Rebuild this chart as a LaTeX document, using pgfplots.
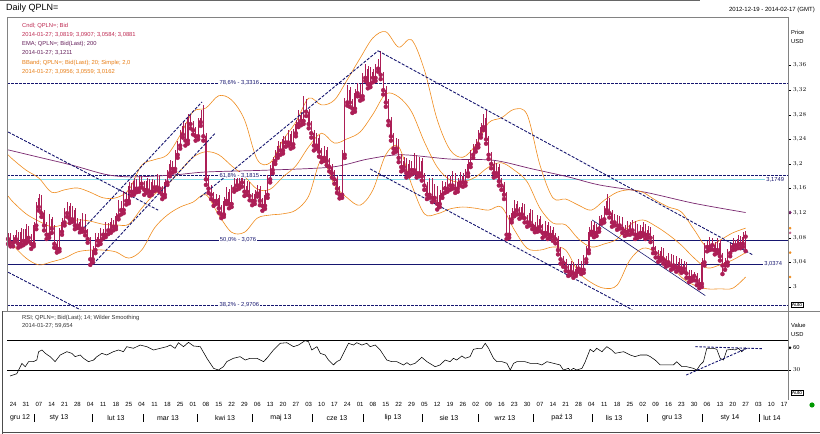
\documentclass[border=0pt]{standalone}
\usepackage{fontspec}
\setmainfont{Liberation Sans}
\usepackage{pgfplots}
\usepackage{pgfplotstable}
\pgfplotsset{compat=1.18}
\definecolor{candle}{RGB}{172,30,86}
\definecolor{ema}{RGB}{122,40,112}
\definecolor{bb}{RGB}{240,140,30}
\definecolor{navy}{RGB}{22,22,112}
\definecolor{cyanl}{RGB}{130,222,235}
\definecolor{frm}{RGB}{130,130,130}
\definecolor{legc}{RGB}{190,40,80}
\definecolor{lege}{RGB}{100,30,90}
\definecolor{lego}{RGB}{232,125,20}

\pgfplotstableread{
i o h l c
-2 3.078 3.088 3.070 3.082
-1 3.082 3.088 3.066 3.072
0 3.072 3.084 3.066 3.078
1 3.078 3.092 3.074 3.085
2 3.085 3.090 3.064 3.070
3 3.070 3.096 3.066 3.090
4 3.090 3.094 3.068 3.075
5 3.075 3.102 3.071 3.095
6 3.095 3.099 3.074 3.080
7 3.080 3.086 3.062 3.070
8 3.070 3.106 3.066 3.100
9 3.100 3.138 3.094 3.130
10 3.130 3.152 3.124 3.145
11 3.145 3.150 3.114 3.120
12 3.120 3.126 3.092 3.100
13 3.100 3.105 3.078 3.085
14 3.085 3.118 3.080 3.110
15 3.110 3.114 3.088 3.095
16 3.095 3.100 3.064 3.070
17 3.070 3.076 3.056 3.062
18 3.062 3.096 3.058 3.090
19 3.090 3.112 3.085 3.105
20 3.105 3.128 3.100 3.120
21 3.120 3.138 3.114 3.132
22 3.132 3.136 3.104 3.110
23 3.110 3.131 3.106 3.125
24 3.125 3.129 3.094 3.100
25 3.100 3.112 3.096 3.105
26 3.105 3.110 3.089 3.095
27 3.095 3.121 3.090 3.115
28 3.115 3.119 3.084 3.090
29 3.090 3.094 3.072 3.078
30 3.078 3.082 3.036 3.045
31 3.045 3.066 3.040 3.060
32 3.060 3.088 3.055 3.082
33 3.082 3.087 3.068 3.075
34 3.075 3.096 3.070 3.090
35 3.090 3.094 3.079 3.085
36 3.085 3.106 3.081 3.100
37 3.100 3.104 3.086 3.092
38 3.092 3.112 3.088 3.105
39 3.105 3.109 3.092 3.098
40 3.098 3.121 3.094 3.115
41 3.115 3.142 3.110 3.135
42 3.135 3.140 3.118 3.125
43 3.125 3.156 3.120 3.150
44 3.150 3.155 3.134 3.140
45 3.140 3.170 3.136 3.165
46 3.165 3.169 3.149 3.155
47 3.155 3.178 3.150 3.172
48 3.172 3.176 3.154 3.160
49 3.160 3.181 3.155 3.175
50 3.175 3.180 3.162 3.168
51 3.168 3.172 3.150 3.158
52 3.158 3.178 3.153 3.172
53 3.172 3.176 3.148 3.155
54 3.155 3.176 3.150 3.170
55 3.170 3.174 3.156 3.162
56 3.162 3.184 3.158 3.178
57 3.178 3.182 3.154 3.160
58 3.160 3.164 3.143 3.150
59 3.150 3.176 3.146 3.170
60 3.170 3.191 3.166 3.185
61 3.185 3.206 3.180 3.200
62 3.200 3.205 3.186 3.192
63 3.192 3.222 3.188 3.215
64 3.215 3.237 3.210 3.230
65 3.230 3.255 3.225 3.248
66 3.248 3.270 3.243 3.262
67 3.262 3.267 3.230 3.238
68 3.238 3.282 3.233 3.275
69 3.275 3.280 3.258 3.265
70 3.265 3.270 3.248 3.255
71 3.255 3.260 3.238 3.245
72 3.245 3.275 3.240 3.268
73 3.268 3.288 3.262 3.275
74 3.275 3.296 3.238 3.245
75 3.245 3.250 3.166 3.175
76 3.175 3.182 3.153 3.160
77 3.160 3.166 3.143 3.150
78 3.150 3.155 3.132 3.140
79 3.140 3.152 3.135 3.145
80 3.145 3.150 3.121 3.128
81 3.128 3.133 3.112 3.118
82 3.118 3.146 3.114 3.140
83 3.140 3.162 3.135 3.155
84 3.155 3.160 3.128 3.135
85 3.135 3.166 3.130 3.160
86 3.160 3.182 3.155 3.175
87 3.175 3.180 3.158 3.165
88 3.165 3.188 3.160 3.180
89 3.180 3.185 3.163 3.170
90 3.170 3.175 3.148 3.155
91 3.155 3.172 3.150 3.165
92 3.165 3.170 3.141 3.148
93 3.148 3.153 3.133 3.140
94 3.140 3.158 3.135 3.152
95 3.152 3.166 3.147 3.160
96 3.160 3.165 3.133 3.140
97 3.140 3.145 3.124 3.132
98 3.132 3.157 3.127 3.150
99 3.150 3.182 3.145 3.175
100 3.175 3.198 3.170 3.190
101 3.190 3.212 3.185 3.205
102 3.205 3.222 3.200 3.215
103 3.215 3.238 3.210 3.230
104 3.230 3.235 3.215 3.222
105 3.222 3.246 3.217 3.240
106 3.240 3.245 3.228 3.235
107 3.235 3.255 3.230 3.248
108 3.248 3.253 3.225 3.232
109 3.232 3.257 3.227 3.250
110 3.250 3.272 3.245 3.265
111 3.265 3.288 3.260 3.280
112 3.280 3.285 3.263 3.270
113 3.270 3.310 3.265 3.300
114 3.300 3.306 3.278 3.285
115 3.285 3.290 3.258 3.265
116 3.265 3.270 3.243 3.250
117 3.250 3.255 3.222 3.230
118 3.230 3.250 3.225 3.242
119 3.242 3.247 3.212 3.220
120 3.220 3.226 3.203 3.210
121 3.210 3.229 3.205 3.222
122 3.222 3.227 3.198 3.205
123 3.205 3.210 3.188 3.195
124 3.195 3.200 3.178 3.185
125 3.185 3.190 3.168 3.175
126 3.175 3.180 3.153 3.160
127 3.160 3.165 3.144 3.150
128 3.150 3.222 3.145 3.215
129 3.215 3.308 3.210 3.300
130 3.300 3.328 3.295 3.320
131 3.320 3.325 3.293 3.300
132 3.300 3.305 3.283 3.290
133 3.290 3.322 3.285 3.315
134 3.315 3.332 3.310 3.325
135 3.325 3.330 3.303 3.310
136 3.310 3.348 3.305 3.340
137 3.340 3.362 3.335 3.355
138 3.355 3.360 3.323 3.330
139 3.330 3.357 3.325 3.350
140 3.350 3.355 3.333 3.340
141 3.340 3.362 3.335 3.355
142 3.355 3.370 3.350 3.362
143 3.362 3.383 3.338 3.345
144 3.345 3.350 3.313 3.320
145 3.320 3.326 3.293 3.300
146 3.300 3.305 3.263 3.270
147 3.270 3.276 3.238 3.245
148 3.245 3.250 3.218 3.225
149 3.225 3.242 3.220 3.235
150 3.235 3.240 3.203 3.210
151 3.210 3.216 3.188 3.195
152 3.195 3.212 3.190 3.205
153 3.205 3.210 3.178 3.185
154 3.185 3.207 3.180 3.200
155 3.200 3.205 3.183 3.190
156 3.190 3.218 3.185 3.210
157 3.210 3.215 3.178 3.185
158 3.185 3.212 3.180 3.205
159 3.205 3.210 3.173 3.180
160 3.180 3.185 3.158 3.165
161 3.165 3.170 3.143 3.150
162 3.150 3.178 3.145 3.172
163 3.172 3.177 3.138 3.145
164 3.145 3.167 3.140 3.160
165 3.160 3.165 3.126 3.135
166 3.135 3.157 3.130 3.150
167 3.150 3.172 3.145 3.165
168 3.165 3.170 3.153 3.160
169 3.160 3.182 3.155 3.175
170 3.175 3.180 3.158 3.165
171 3.165 3.188 3.160 3.180
172 3.180 3.185 3.153 3.160
173 3.160 3.177 3.155 3.170
174 3.170 3.187 3.165 3.180
175 3.180 3.185 3.163 3.170
176 3.170 3.192 3.165 3.185
177 3.185 3.207 3.180 3.200
178 3.200 3.222 3.195 3.215
179 3.215 3.232 3.210 3.225
180 3.225 3.240 3.220 3.232
181 3.232 3.255 3.227 3.248
182 3.248 3.267 3.243 3.260
183 3.260 3.282 3.255 3.275
184 3.275 3.287 3.233 3.240
185 3.240 3.246 3.208 3.215
186 3.215 3.220 3.193 3.200
187 3.200 3.205 3.178 3.185
188 3.185 3.202 3.180 3.195
189 3.195 3.200 3.165 3.172
190 3.172 3.177 3.158 3.165
191 3.165 3.170 3.143 3.150
192 3.150 3.155 3.078 3.085
193 3.085 3.117 3.080 3.110
194 3.110 3.128 3.105 3.120
195 3.120 3.142 3.115 3.135
196 3.135 3.140 3.118 3.125
197 3.125 3.130 3.111 3.118
198 3.118 3.137 3.113 3.130
199 3.130 3.135 3.105 3.112
200 3.112 3.117 3.098 3.105
201 3.105 3.127 3.100 3.120
202 3.120 3.125 3.094 3.100
203 3.100 3.105 3.089 3.095
204 3.095 3.117 3.090 3.110
205 3.110 3.115 3.091 3.098
206 3.098 3.103 3.080 3.088
207 3.088 3.107 3.083 3.100
208 3.100 3.105 3.078 3.085
209 3.085 3.099 3.080 3.092
210 3.092 3.097 3.075 3.082
211 3.082 3.087 3.071 3.078
212 3.078 3.083 3.053 3.060
213 3.060 3.065 3.038 3.045
214 3.045 3.050 3.033 3.040
215 3.040 3.045 3.026 3.032
216 3.032 3.037 3.018 3.025
217 3.025 3.042 3.020 3.035
218 3.035 3.040 3.015 3.022
219 3.022 3.037 3.018 3.030
220 3.030 3.045 3.025 3.038
221 3.038 3.043 3.021 3.028
222 3.028 3.052 3.023 3.045
223 3.045 3.067 3.040 3.060
224 3.060 3.097 3.055 3.090
225 3.090 3.107 3.085 3.100
226 3.100 3.105 3.081 3.088
227 3.088 3.102 3.083 3.095
228 3.095 3.115 3.090 3.108
229 3.108 3.117 3.103 3.110
230 3.110 3.132 3.105 3.125
231 3.125 3.152 3.120 3.140
232 3.140 3.145 3.113 3.120
233 3.120 3.125 3.098 3.105
234 3.105 3.119 3.100 3.112
235 3.112 3.117 3.093 3.100
236 3.100 3.115 3.095 3.108
237 3.108 3.113 3.088 3.095
238 3.095 3.100 3.083 3.090
239 3.090 3.107 3.085 3.100
240 3.100 3.105 3.085 3.092
241 3.092 3.109 3.087 3.102
242 3.102 3.107 3.078 3.085
243 3.085 3.102 3.080 3.095
244 3.095 3.100 3.081 3.088
245 3.088 3.105 3.083 3.098
246 3.098 3.103 3.078 3.085
247 3.085 3.099 3.080 3.092
248 3.092 3.097 3.073 3.080
249 3.080 3.085 3.055 3.062
250 3.062 3.067 3.048 3.055
251 3.055 3.060 3.041 3.048
252 3.048 3.065 3.043 3.058
253 3.058 3.063 3.038 3.045
254 3.045 3.050 3.033 3.040
255 3.040 3.055 3.035 3.048
256 3.048 3.053 3.028 3.035
257 3.035 3.052 3.030 3.045
258 3.045 3.050 3.025 3.032
259 3.032 3.047 3.027 3.040
260 3.040 3.045 3.023 3.030
261 3.030 3.042 3.025 3.035
262 3.035 3.040 3.015 3.022
263 3.022 3.027 3.008 3.015
264 3.015 3.027 3.010 3.020
265 3.020 3.025 3.011 3.018
266 3.018 3.023 3.003 3.010
267 3.010 3.015 2.998 3.005
268 3.005 3.047 3.000 3.040
269 3.040 3.072 3.035 3.065
270 3.065 3.074 3.058 3.065
271 3.065 3.082 3.060 3.075
272 3.075 3.080 3.061 3.068
273 3.068 3.073 3.053 3.060
274 3.060 3.079 3.055 3.072
275 3.072 3.077 3.043 3.050
276 3.050 3.055 3.021 3.035
277 3.035 3.047 3.028 3.040
278 3.040 3.062 3.035 3.055
279 3.055 3.072 3.050 3.065
280 3.065 3.079 3.060 3.072
281 3.072 3.077 3.061 3.068
282 3.068 3.085 3.063 3.078
283 3.078 3.083 3.063 3.070
284 3.070 3.089 3.065 3.082
285 3.0819 3.0907 3.0584 3.0881
}\candles

\pgfplotstableread{
i u m l
-2 3.215 3.148 3.081
0 3.207 3.138 3.068
5 3.190 3.119 3.047
10 3.177 3.107 3.036
15 3.154 3.098 3.041
20 3.158 3.102 3.047
25 3.161 3.109 3.057
30 3.154 3.107 3.060
35 3.145 3.102 3.060
40 3.145 3.101 3.057
45 3.158 3.102 3.047
50 3.198 3.128 3.060
55 3.207 3.151 3.096
60 3.215 3.166 3.117
65 3.247 3.189 3.130
70 3.285 3.211 3.138
75 3.291 3.220 3.150
80 3.311 3.215 3.117
85 3.304 3.197 3.089
90 3.272 3.180 3.089
95 3.207 3.159 3.112
100 3.202 3.159 3.117
105 3.239 3.179 3.119
110 3.268 3.197 3.125
115 3.307 3.228 3.148
120 3.296 3.250 3.207
125 3.304 3.234 3.166
130 3.337 3.241 3.145
135 3.372 3.252 3.133
140 3.405 3.281 3.158
145 3.415 3.314 3.215
150 3.390 3.309 3.228
155 3.402 3.285 3.167
160 3.353 3.236 3.119
165 3.272 3.195 3.119
170 3.223 3.174 3.127
175 3.211 3.171 3.130
180 3.231 3.179 3.128
185 3.267 3.195 3.125
190 3.275 3.202 3.130
195 3.289 3.190 3.093
200 3.280 3.171 3.063
205 3.198 3.128 3.060
210 3.145 3.104 3.065
215 3.143 3.101 3.060
220 3.133 3.078 3.024
225 3.125 3.065 3.007
230 3.141 3.070 2.998
235 3.154 3.078 3.003
240 3.158 3.101 3.044
245 3.154 3.109 3.063
250 3.141 3.099 3.057
255 3.130 3.085 3.041
260 3.122 3.068 3.016
265 3.093 3.047 3.003
270 3.065 3.031 2.997
275 3.076 3.036 2.997
280 3.088 3.044 2.998
285 3.0956 3.0559 3.0162
}\bband

\pgfplotstableread{
i e
-2 3.223
10 3.211
23 3.198
36 3.183
46 3.179
62 3.182
75 3.187
99 3.190
124 3.195
138 3.208
151 3.215
170 3.208
187 3.206
202 3.192
216 3.179
228 3.166
246 3.154
265 3.136
285 3.1211
}\emat

\pgfplotstableread{
i r
-1.2 22
1.4 25
3.4 38.9
4.7 34.4
6.0 41.1
7.9 41.1
9.2 43.3
9.9 54.4
11.2 56.7
12.5 52.2
14.4 47.8
16.3 41.1
18.3 50
20.9 54.4
22.8 52.2
24.1 47.8
26.1 50
27.4 45.6
29.3 41.1
31.3 43.3
32.6 47.8
34.5 52.2
36.4 50
39.0 54.4
41.0 56.7
42.9 54.4
44.2 61.1
46.8 58.9
49.4 63.3
52.0 61.1
54.6 56.7
57.2 58.9
59.8 61.1
61.1 63.3
63.0 58.9
64.3 66.4
66.3 61.1
68.2 66.9
70.2 62.0
72.8 61.1
75.4 45.6
78.0 32.2
79.9 30.0
81.8 34.4
83.1 41.1
85.7 45.6
88.3 47.8
90.3 43.3
92.2 45.6
94.8 45.6
97.4 41.1
98.7 45.6
101.3 56.7
103.9 65.6
106.5 66.4
109.1 61.1
111.0 63.3
113.6 69.1
114.9 67.8
116.2 56.7
118.2 61.1
119.5 52.2
121.4 50.0
122.7 43.3
124.6 36.7
125.9 41.1
127.2 43.3
128.5 52.2
130.5 65.6
132.4 63.3
133.7 66.4
135.7 63.3
137.6 65.6
138.9 61.1
140.9 63.3
142.8 56.7
145.4 43.3
147.3 41.1
149.3 41.1
151.9 36.7
153.2 39.8
154.5 36.7
156.4 38.9
159.0 46.9
161.0 41.1
164.2 34.4
166.1 36.7
168.1 43.3
170.0 41.1
171.3 45.6
172.6 43.3
174.6 48.7
175.9 45.6
177.8 47.8
179.1 57.6
181.1 58.9
182.4 58.9
183.7 65.6
185.0 58.9
186.9 45.6
188.2 41.1
190.2 41.1
192.1 38.9
193.4 30.0
194.7 38.9
196.0 41.1
199.2 41.1
201.2 38.9
203.8 38.9
205.7 36.7
207.7 41.1
210.3 38.9
212.8 36.7
214.1 30.0
216.1 32.2
216.7 29.1
218.0 32.2
219.3 30.0
221.3 32.2
222.6 41.1
224.5 57.6
225.8 54.4
227.1 58.9
229.1 54.4
231.0 61.1
232.9 56.7
234.2 52.2
235.5 53.1
237.5 54.4
240.1 50.0
242.0 47.8
244.0 50.0
246.6 50.0
247.9 47.8
249.8 43.3
251.8 36.7
254.4 36.7
256.9 36.7
258.2 41.1
260.2 34.4
262.1 34.4
264.7 32.2
266.0 30.0
267.3 36.7
268.6 41.1
269.9 58.9
272.5 58.9
273.8 57.6
275.1 45.6
276.4 43.3
277.7 56.7
279.6 57.6
280.9 56.7
282.2 58.9
283.5 54.4
285.0 59.654
}\rsit

\begin{document}
\begin{tikzpicture}[x=1pt,y=1pt]
\useasboundingbox (0,0) rectangle (820,434);
\fill[white] (0,0) rectangle (820,434);

% ---------------- price panel ----------------
\begin{axis}[
  at={(7pt,124pt)}, anchor=south west, scale only axis,
  width=781pt, height=293pt,
  xmin=-2.4, xmax=301.5, ymin=2.9626, ymax=3.439,
  axis line style={draw=none},
  xtick=\empty,
  ytick={3,3.04,3.08,3.12,3.16,3.2,3.24,3.28,3.32,3.36},
  ytick pos=right, yticklabel pos=right,
  tick align=outside, major tick length=2.5pt,
  tick style={black, line width=0.4pt},
  scaled y ticks=false,
  yticklabel style={font=\fontsize{6}{7}\selectfont, xshift=-1pt},
  /pgf/number format/use comma, /pgf/number format/fixed, /pgf/number format/precision=2,
]
% horizontal levels
\addplot[navy, line width=1pt, dash pattern=on 2.5pt off 1.5pt] coordinates {(-2.4,3.3316) (301.5,3.3316)};
\addplot[navy, line width=1pt, dash pattern=on 2.5pt off 1.5pt] coordinates {(-2.4,3.1815) (301.5,3.1815)};
\addplot[navy, line width=1pt, dash pattern=on 2.5pt off 1.5pt] coordinates {(-2.4,2.9706) (301.5,2.9706)};
\addplot[cyanl, line width=0.9pt] coordinates {(-2.4,3.1749) (292.6,3.1749)};
\addplot[navy, line width=0.8pt] coordinates {(-2.4,3.076) (301.5,3.076)};
\addplot[navy, line width=0.8pt] coordinates {(-2.4,3.0374) (291.8,3.0374)};
% EMA 200
\addplot[ema, line width=0.7pt, smooth] table[x=i, y=e] {\emat};
% Bollinger bands
\addplot[bb, line width=0.6pt, smooth, tension=0.55] table[x=i, y=u] {\bband};
\addplot[bb, line width=0.6pt, smooth, tension=0.55] table[x=i, y=m] {\bband};
\addplot[bb, line width=0.6pt, smooth, tension=0.55] table[x=i, y=l] {\bband};
% candles: wicks and bodies
\addplot[only marks, mark=none, candle,
  error bars/.cd, y dir=plus, y explicit, error mark=none,
  error bar style={line width=0.4pt, line cap=butt}]
  table[x=i, y=l, y error expr=\thisrow{h}-\thisrow{l}] {\candles};
\addplot[only marks, mark=none, candle,
  error bars/.cd, y dir=plus, y explicit, error mark=none,
  error bar style={line width=1.1pt, line cap=butt}]
  table[x=i, y expr={min(\thisrow{o},\thisrow{c})}, y error expr={abs(\thisrow{c}-\thisrow{o})}] {\candles};
% trend lines
\addplot[navy, line width=0.9pt, dash pattern=on 3pt off 1.5pt] coordinates {(-1.95,3.252) (56.4,3.125)};
\addplot[navy, line width=0.9pt, dash pattern=on 3pt off 1.5pt] coordinates {(-1.95,3.024) (26.1,2.963)};
\addplot[navy, line width=0.9pt, dash pattern=on 3pt off 1.5pt] coordinates {(25.3,3.086) (73.5,3.301)};
\addplot[navy, line width=0.9pt, dash pattern=on 3pt off 1.5pt] coordinates {(31.1,3.037) (78.6,3.250)};
\addplot[navy, line width=0.9pt, dash pattern=on 3pt off 1.5pt] coordinates {(72.8,3.146) (142,3.384)};
\addplot[navy, line width=0.9pt, dash pattern=on 3pt off 1.5pt] coordinates {(142,3.384) (287.9,3.052)};
\addplot[navy, line width=0.9pt, dash pattern=on 3pt off 1.5pt] coordinates {(138.9,3.192) (240.9,2.963)};
\addplot[navy, line width=0.6pt] coordinates {(225.3,3.109) (269.3,2.986)};
% level labels
\node[navy, fill=white, inner sep=0.6pt, font=\fontsize{5.8}{6}\selectfont] at (axis cs:88,3.3316) {78,6\% - 3,3316};
\node[navy, fill=white, inner sep=0.6pt, font=\fontsize{5.8}{6}\selectfont] at (axis cs:88,3.1815) {61,8\% - 3,1815};
\node[navy, fill=white, inner sep=0.6pt, font=\fontsize{5.8}{6}\selectfont] at (axis cs:87.5,3.076) {50,0\% - 3,076};
\node[navy, fill=white, inner sep=0.6pt, font=\fontsize{5.8}{6}\selectfont] at (axis cs:88,2.9706) {38,2\% - 2,9706};
\node[navy, font=\fontsize{5.8}{6}\selectfont, anchor=west, inner sep=0.5pt] at (axis cs:292.8,3.1749) {3,1749};
\node[navy, font=\fontsize{5.8}{6}\selectfont, anchor=west, inner sep=0.5pt] at (axis cs:292.0,3.0374) {3,0374};
\end{axis}

% last-value markers of the price panel
\begin{axis}[
  at={(7pt,124pt)}, anchor=south west, scale only axis,
  width=781pt, height=293pt,
  xmin=-2.4, xmax=301.5, ymin=2.9626, ymax=3.439,
  hide axis, clip=false]
\addplot[only marks, mark=diamond*, mark size=1.6pt, ema] coordinates {(302.3,3.1211)};
\addplot[only marks, mark=*, mark size=1.1pt, bb] coordinates {(302.3,3.0956) (302.3,3.0559) (302.3,3.0162)};
\addplot[only marks, mark=*, mark size=1.1pt, candle!70!white] coordinates {(302.3,3.0881)};
\end{axis}

% ---------------- RSI panel ----------------
\begin{axis}[
  at={(7pt,37pt)}, anchor=south west, scale only axis,
  width=781pt, height=84pt,
  xmin=-2.4, xmax=301.5, ymin=-6, ymax=106,
  axis line style={draw=none},
  ytick={30}, ytick pos=right, yticklabel pos=right,
  tick align=outside, major tick length=2.5pt,
  ytick style={black, line width=0.4pt},
  yticklabel style={font=\fontsize{6}{7}\selectfont, xshift=-1pt},
  xtick={0,5,...,300},
  xticklabels={24,31,07,14,21,28,04,11,18,25,04,11,18,25,01,08,15,22,29,06,13,20,27,03,10,17,24,01,08,15,22,29,05,12,19,26,02,09,16,23,30,07,14,21,28,04,11,18,25,02,09,16,23,30,06,13,20,27,03,10,17},
  xtick style={draw=none},
  xticklabel style={font=\fontsize{6}{7}\selectfont, yshift=1pt},
]
\addplot[black, line width=0.7pt] coordinates {(-2.4,70) (301.5,70)};
\addplot[black, line width=0.7pt] coordinates {(-2.4,30) (301.5,30)};
\addplot[black, line width=0.55pt] table[x=i, y=r] {\rsit};
\addplot[navy, line width=0.9pt, dash pattern=on 2.5pt off 1.5pt] coordinates {(265.5,61.1) (291.7,58.4)};
\addplot[navy, line width=0.9pt, dash pattern=on 2.5pt off 1.5pt] coordinates {(261.9,23.3) (285.5,58.9)};
\end{axis}
\begin{axis}[
  at={(7pt,37pt)}, anchor=south west, scale only axis,
  width=781pt, height=84pt,
  xmin=-2.4, xmax=301.5, ymin=-6, ymax=106,
  hide axis, clip=false]
\addplot[only marks, mark=*, mark size=1.1pt, black] coordinates {(302.3,59.654)};
\end{axis}

% ---------------- frames ----------------
\draw[frm, line width=0.6pt] (7,123) -- (7,417) -- (788,417);
\draw[frm, line width=0.6pt] (788,417) -- (788,34);
\draw[frm, line width=0.6pt] (2,123) -- (820,123);
\draw[black!70, line width=1pt] (2.5,0) -- (2.5,123);
\draw[black!70, line width=1pt] (2,1.5) -- (820,1.5);
\draw[black!60, line width=0.8pt] (0,433.6) -- (700,433.6);

% ---------------- texts ----------------
\node[anchor=west, font=\fontsize{9}{10}\selectfont, inner sep=0pt] at (6,425.5) {Daily QPLN=};
\node[anchor=east, font=\fontsize{6}{7}\selectfont, inner sep=0pt] at (815,424) {2012-12-19 - 2014-02-17 (GMT)};

\begin{scope}[every node/.style={anchor=west, inner sep=0pt, font=\fontsize{5.8}{6}\selectfont}]
\node[legc] at (22,408) {Cndl; QPLN=; Bid};
\node[legc] at (22,399) {2014-01-27; 3,0819; 3,0907; 3,0584; 3,0881};
\node[lege] at (22,390) {EMA; QPLN=; Bid(Last); 200};
\node[lege] at (22,381) {2014-01-27; 3,1211};
\node[lego] at (22,371) {BBand; QPLN=; Bid(Last); 20; Simple; 2,0};
\node[lego] at (22,362) {2014-01-27; 3,0956; 3,0559; 3,0162};
\node[black!80] at (22,116) {RSI; QPLN=; Bid(Last); 14; Wilder Smoothing};
\node[black!80] at (22,108) {2014-01-27; 59,654};
\node at (791,402) {Price};
\node at (791,392) {USD};
\node at (791,109) {Value};
\node at (791,99) {USD};
\node at (793,86) {60};
\end{scope}
\node[draw, font=\fontsize{5}{6}\selectfont, inner sep=0.7pt] at (797,129) {Auto};
\node[draw, font=\fontsize{5}{6}\selectfont, inner sep=0.7pt] at (797,41) {Auto};
\fill[green!60!black] (812,29) circle (2.6);

% month labels
\begin{scope}[every node/.style={inner sep=0pt, font=\fontsize{7}{8}\selectfont}]
\node at (20,16) {gru 12};
\node at (59,16) {sty 13};
\node at (116,16) {lut 13};
\node at (168,16) {mar 13};
\node at (225,16) {kwi 13};
\node at (281,16) {maj 13};
\node at (337,16) {cze 13};
\node at (393,16) {lip 13};
\node at (449,16) {sie 13};
\node at (505,16) {wrz 13};
\node at (562,16) {paź 13};
\node at (614,16) {lis 13};
\node at (672,16) {gru 13};
\node at (730,16) {sty 14};
\node at (772,16) {lut 14};
\end{scope}
\foreach \sx in {34,92,143,197,252,312,363,422,478,533,592,647,702,759}
  \draw[black, line width=0.6pt] (\sx,12) -- (\sx,20);
\end{tikzpicture}
\end{document}
